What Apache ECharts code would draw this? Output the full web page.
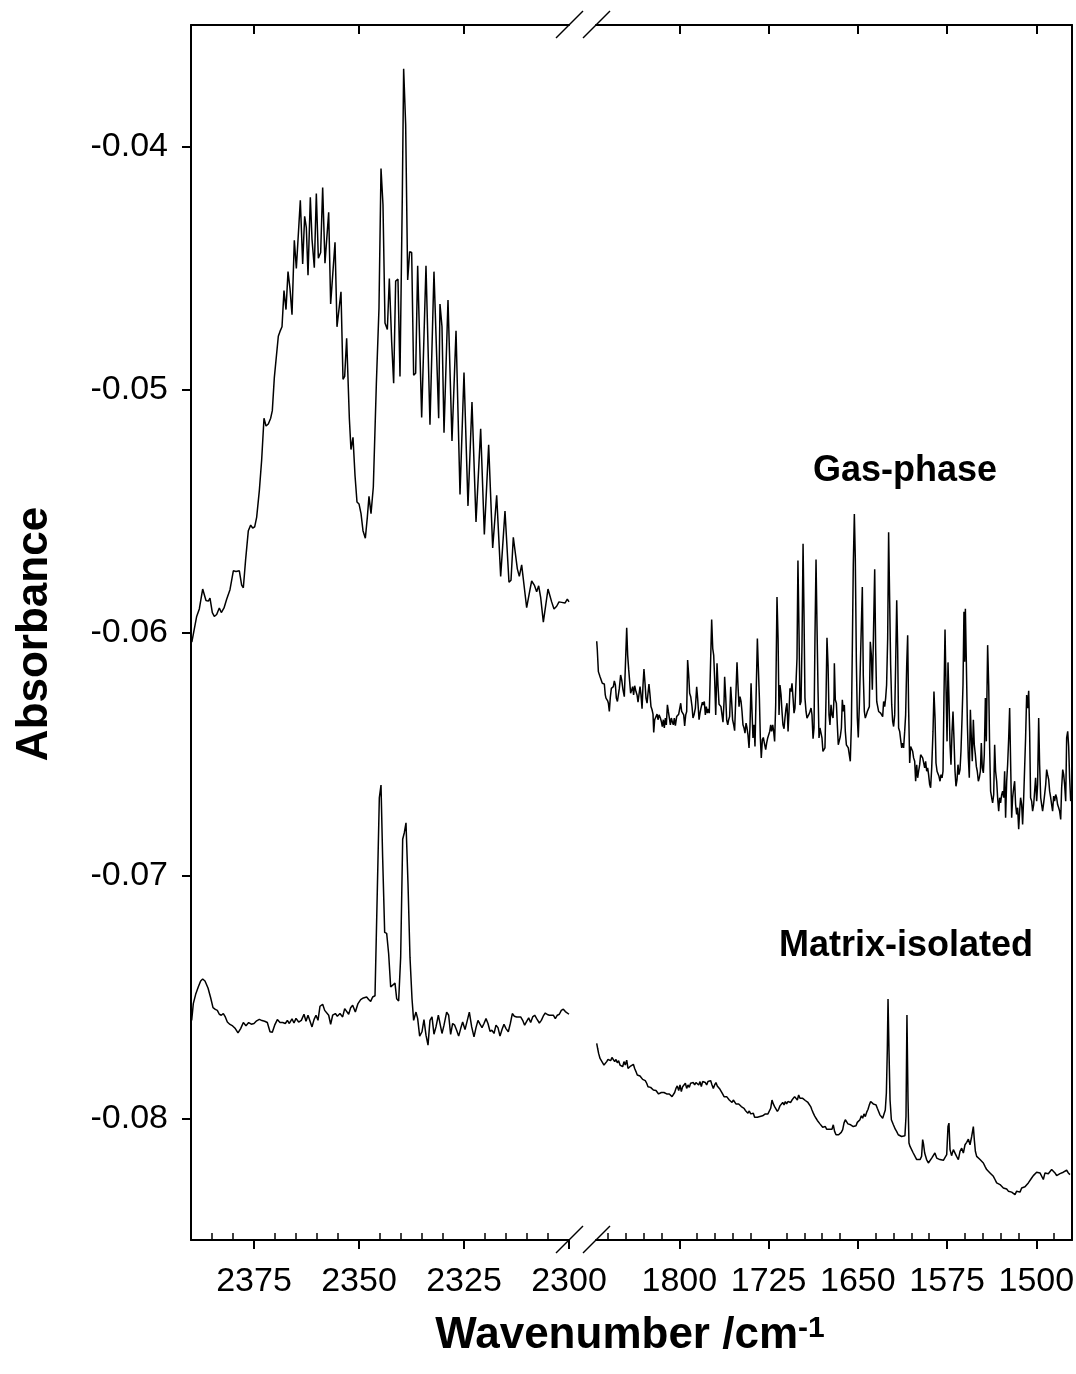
<!DOCTYPE html>
<html>
<head>
<meta charset="utf-8">
<script src="https://cdn.jsdelivr.net/npm/echarts@6/dist/echarts.min.js"></script>
<style>
  html, body { margin: 0; padding: 0; background: #fff; }
  #chart { width: 1076px; height: 1374px; }
</style>
</head>
<body>
<div id="chart"></div>
<script>
// spectra as [wavenumber (cm-1), absorbance]
const gasLeft = [[2389.8,-0.0604],[2388.65,-0.05934],[2388.02,-0.05903],[2387.22,-0.05821],[2386.43,-0.05868],[2385.87,-0.05871],[2385.48,-0.05859],[2384.92,-0.05918],[2384.45,-0.05934],[2383.89,-0.05926],[2383.26,-0.05899],[2382.78,-0.05918],[2382.14,-0.05899],[2381.51,-0.05863],[2380.72,-0.05824],[2379.92,-0.05746],[2379.29,-0.05749],[2378.49,-0.05746],[2377.94,-0.05805],[2377.54,-0.05816],[2376.99,-0.05699],[2376.35,-0.05581],[2375.79,-0.05558],[2375.32,-0.0557],[2374.84,-0.05565],[2374.37,-0.05526],[2373.73,-0.05416],[2373.18,-0.05291],[2372.62,-0.05118],[2372.14,-0.0515],[2371.59,-0.05142],[2371.03,-0.05118],[2370.64,-0.05087],[2370.16,-0.04951],[2369.69,-0.04949],[2369.21,-0.04781],[2368.81,-0.04761],[2368.33,-0.04742],[2367.86,-0.04593],[2367.38,-0.04671],[2366.9,-0.04515],[2366.43,-0.04585],[2365.95,-0.04692],[2365.4,-0.04386],[2364.92,-0.04502],[2363.97,-0.04221],[2363.41,-0.04483],[2362.94,-0.04287],[2362.54,-0.04334],[2362.14,-0.0453],[2361.59,-0.04209],[2361.19,-0.04381],[2360.64,-0.04499],[2360.16,-0.04193],[2359.68,-0.0446],[2359.13,-0.04436],[2358.65,-0.04169],[2358.1,-0.0448],[2357.22,-0.04271],[2356.75,-0.04648],[2355.71,-0.04394],[2355.24,-0.04742],[2354.29,-0.04598],[2353.81,-0.04958],[2353.41,-0.04946],[2352.94,-0.04789],[2352.3,-0.05118],[2351.91,-0.05247],[2351.43,-0.05197],[2350.95,-0.05354],[2350.48,-0.05463],[2350.0,-0.05471],[2349.52,-0.05511],[2349.05,-0.05581],[2348.49,-0.05612],[2348.02,-0.05526],[2347.62,-0.0544],[2347.14,-0.05511],[2346.59,-0.05401],[2345.87,-0.04977],[2345.24,-0.04664],[2344.76,-0.04091],[2344.29,-0.0424],[2343.81,-0.04726],[2343.25,-0.04753],[2342.78,-0.04543],[2342.22,-0.04805],[2341.75,-0.04974],[2341.27,-0.04554],[2340.72,-0.04546],[2340.24,-0.04946],[2339.68,-0.04193],[2339.37,-0.0368],[2338.89,-0.03911],[2338.41,-0.04549],[2337.94,-0.04433],[2337.46,-0.04436],[2336.99,-0.04941],[2336.51,-0.04933],[2336.03,-0.04491],[2335.08,-0.05115],[2334.05,-0.04491],[2333.1,-0.05145],[2332.15,-0.04515],[2331.03,-0.05118],[2330.72,-0.04648],[2330.24,-0.04742],[2329.76,-0.05178],[2328.81,-0.04632],[2327.86,-0.05212],[2326.9,-0.04758],[2325.95,-0.05432],[2325.0,-0.0493],[2324.05,-0.05479],[2323.1,-0.05052],[2322.14,-0.05545],[2321.03,-0.05162],[2320.16,-0.05597],[2319.13,-0.05228],[2318.17,-0.05652],[2317.22,-0.05435],[2316.27,-0.05769],[2315.24,-0.055],[2314.29,-0.05793],[2313.81,-0.05785],[2313.26,-0.05608],[2312.86,-0.05602],[2312.3,-0.05738],[2311.83,-0.05769],[2311.27,-0.05722],[2310.88,-0.0573],[2310.08,-0.05898],[2309.29,-0.05824],[2308.89,-0.05788],[2308.26,-0.05805],[2307.7,-0.05832],[2307.22,-0.05808],[2306.75,-0.05855],[2306.11,-0.05957],[2305.64,-0.0595],[2305.0,-0.05821],[2304.68,-0.05813],[2304.13,-0.05874],[2303.57,-0.05903],[2302.94,-0.05892],[2302.38,-0.05874],[2301.75,-0.05876],[2300.96,-0.05879],[2300.4,-0.05863],[2300.0,-0.05874]];

const matrixLeft = [[2389.84,-0.07596],[2389.45,-0.07527],[2388.89,-0.07489],[2388.27,-0.07459],[2387.7,-0.07434],[2387.22,-0.07426],[2386.67,-0.07434],[2385.95,-0.07463],[2385.32,-0.07503],[2384.76,-0.07544],[2384.21,-0.07551],[2383.73,-0.07555],[2383.26,-0.07571],[2382.78,-0.07575],[2382.3,-0.07568],[2381.83,-0.07582],[2381.35,-0.07603],[2380.72,-0.07613],[2380.08,-0.07619],[2379.45,-0.0763],[2378.81,-0.07648],[2378.18,-0.0763],[2377.54,-0.07605],[2376.91,-0.07618],[2376.27,-0.07605],[2375.64,-0.07612],[2375.0,-0.07609],[2374.37,-0.07598],[2373.73,-0.07592],[2373.1,-0.07597],[2372.46,-0.076],[2371.83,-0.07605],[2371.19,-0.07643],[2370.64,-0.07645],[2370.08,-0.07616],[2369.44,-0.07593],[2368.81,-0.07605],[2368.17,-0.07605],[2367.54,-0.07609],[2367.06,-0.07596],[2366.59,-0.07609],[2365.95,-0.0759],[2365.48,-0.07607],[2365.0,-0.07588],[2364.37,-0.07603],[2363.73,-0.07596],[2363.1,-0.07571],[2362.62,-0.076],[2362.14,-0.07575],[2361.67,-0.07571],[2361.19,-0.07623],[2360.71,-0.07593],[2360.24,-0.07575],[2359.76,-0.07596],[2359.29,-0.07538],[2358.65,-0.0753],[2358.17,-0.07555],[2357.7,-0.07548],[2357.22,-0.07575],[2356.75,-0.07612],[2356.27,-0.07575],[2355.63,-0.07568],[2355.16,-0.07579],[2354.53,-0.07568],[2353.89,-0.07582],[2353.41,-0.07548],[2352.94,-0.07548],[2352.46,-0.07571],[2351.99,-0.07544],[2351.51,-0.07534],[2350.87,-0.07562],[2350.24,-0.07527],[2349.6,-0.07511],[2348.97,-0.07504],[2348.18,-0.075],[2347.7,-0.0751],[2347.22,-0.07518],[2346.75,-0.075],[2346.19,-0.07495],[2345.64,-0.07063],[2345.16,-0.0668],[2344.76,-0.06628],[2344.37,-0.06926],[2343.89,-0.07234],[2343.41,-0.07238],[2342.94,-0.07322],[2342.46,-0.07459],[2341.99,-0.07459],[2341.43,-0.07443],[2341.03,-0.07507],[2340.56,-0.07516],[2340.08,-0.07336],[2339.6,-0.06851],[2339.21,-0.06824],[2338.81,-0.06783],[2338.33,-0.07036],[2337.86,-0.07336],[2337.38,-0.07507],[2336.99,-0.07596],[2336.43,-0.07562],[2336.03,-0.07589],[2335.56,-0.07661],[2335.0,-0.07643],[2334.53,-0.07593],[2334.05,-0.07657],[2333.57,-0.07698],[2333.1,-0.07596],[2332.62,-0.07582],[2332.15,-0.07653],[2331.67,-0.07623],[2331.11,-0.07575],[2330.72,-0.07579],[2330.24,-0.0765],[2329.76,-0.07616],[2329.13,-0.07562],[2328.65,-0.07575],[2328.18,-0.07654],[2327.7,-0.07609],[2327.22,-0.07616],[2326.75,-0.07637],[2326.27,-0.07661],[2325.79,-0.0763],[2325.32,-0.07603],[2324.76,-0.07634],[2324.21,-0.07596],[2323.73,-0.07562],[2323.17,-0.07623],[2322.62,-0.07664],[2322.14,-0.07626],[2321.67,-0.07596],[2321.19,-0.07612],[2320.71,-0.07626],[2320.24,-0.07609],[2319.76,-0.07589],[2319.29,-0.07609],[2318.81,-0.07641],[2318.33,-0.07637],[2317.86,-0.0765],[2317.38,-0.07616],[2316.91,-0.07626],[2316.43,-0.07661],[2315.95,-0.07634],[2315.48,-0.07612],[2315.0,-0.0763],[2314.45,-0.07643],[2313.97,-0.07609],[2313.49,-0.07568],[2313.02,-0.07579],[2312.46,-0.07582],[2311.99,-0.07579],[2311.51,-0.07582],[2311.03,-0.07596],[2310.56,-0.07616],[2310.08,-0.076],[2309.6,-0.07586],[2309.13,-0.07605],[2308.65,-0.07582],[2308.17,-0.07575],[2307.7,-0.07589],[2307.06,-0.07607],[2306.59,-0.07596],[2306.11,-0.07578],[2305.64,-0.07566],[2305.16,-0.07572],[2304.68,-0.07575],[2304.21,-0.07568],[2303.73,-0.07575],[2303.26,-0.07589],[2302.78,-0.07575],[2302.3,-0.07571],[2301.83,-0.07555],[2301.35,-0.0755],[2300.87,-0.0756],[2300.4,-0.07566],[2300.0,-0.07571]];

const gasRight = [[1869.4,-0.06036],[1868.9,-0.06072],[1868.0,-0.06161],[1866.6,-0.06182],[1865.5,-0.06184],[1864.7,-0.06209],[1863.8,-0.06216],[1863.0,-0.06212],[1862.2,-0.06257],[1861.6,-0.0627],[1861.0,-0.06264],[1860.2,-0.06281],[1859.6,-0.06291],[1858.8,-0.06325],[1858.0,-0.06268],[1857.1,-0.0623],[1856.3,-0.06236],[1855.4,-0.06223],[1854.6,-0.06199],[1853.7,-0.06216],[1852.9,-0.0627],[1852.0,-0.06284],[1851.2,-0.06287],[1850.4,-0.0623],[1849.3,-0.06175],[1848.4,-0.06195],[1847.3,-0.06236],[1846.2,-0.06264],[1845.3,-0.06264],[1844.2,-0.05981],[1843.4,-0.06093],[1842.5,-0.06154],[1841.7,-0.06202],[1840.9,-0.0625],[1840.0,-0.06236],[1839.2,-0.06223],[1838.4,-0.06257],[1837.5,-0.06219],[1836.4,-0.06243],[1835.5,-0.06257],[1834.7,-0.06287],[1833.9,-0.06257],[1833.0,-0.06223],[1832.2,-0.06257],[1831.3,-0.06314],[1830.5,-0.06216],[1829.7,-0.0615],[1828.8,-0.06209],[1828.0,-0.0627],[1827.1,-0.06291],[1826.3,-0.0625],[1825.5,-0.06212],[1824.6,-0.06257],[1823.8,-0.06305],[1822.9,-0.06318],[1822.1,-0.06336],[1821.5,-0.06411],[1820.7,-0.06359],[1819.6,-0.06352],[1818.7,-0.06336],[1817.9,-0.06359],[1817.0,-0.06339],[1815.9,-0.06352],[1815.1,-0.06366],[1814.3,-0.06387],[1813.4,-0.06359],[1812.6,-0.06393],[1811.7,-0.06352],[1810.9,-0.0638],[1810.0,-0.06298],[1809.2,-0.06325],[1808.4,-0.06332],[1807.5,-0.0638],[1806.7,-0.06352],[1805.8,-0.06369],[1805.0,-0.0638],[1804.2,-0.06352],[1803.3,-0.06383],[1802.2,-0.06346],[1801.4,-0.06352],[1800.5,-0.06336],[1799.7,-0.06332],[1798.8,-0.06291],[1798.0,-0.06325],[1797.2,-0.06325],[1796.3,-0.06339],[1795.5,-0.06384],[1794.6,-0.06339],[1793.8,-0.06325],[1793.0,-0.06113],[1792.1,-0.06175],[1791.3,-0.0625],[1790.4,-0.06264],[1789.3,-0.06305],[1788.5,-0.06352],[1787.6,-0.06339],[1786.5,-0.06311],[1785.4,-0.06223],[1784.6,-0.0627],[1783.4,-0.06359],[1782.6,-0.06332],[1781.8,-0.06311],[1780.6,-0.06287],[1779.8,-0.06298],[1779.0,-0.06284],[1778.1,-0.06339],[1777.3,-0.06305],[1776.4,-0.06332],[1775.6,-0.06314],[1774.8,-0.06332],[1773.6,-0.06325],[1772.8,-0.05947],[1771.9,-0.06066],[1771.1,-0.06093],[1770.3,-0.06189],[1769.4,-0.06339],[1768.3,-0.06127],[1767.5,-0.06216],[1766.6,-0.06295],[1765.8,-0.06298],[1765.0,-0.06305],[1764.1,-0.06339],[1763.3,-0.06369],[1762.4,-0.06284],[1761.9,-0.06182],[1761.0,-0.06264],[1760.2,-0.06359],[1759.3,-0.0638],[1758.5,-0.06359],[1757.7,-0.06346],[1756.8,-0.06223],[1756.0,-0.06284],[1755.2,-0.06359],[1754.3,-0.0638],[1753.5,-0.06404],[1752.6,-0.06277],[1751.5,-0.06123],[1750.7,-0.06216],[1749.8,-0.06305],[1749.0,-0.06264],[1748.1,-0.06284],[1747.3,-0.06325],[1746.5,-0.0638],[1745.6,-0.06393],[1744.8,-0.06414],[1743.9,-0.06373],[1743.1,-0.06393],[1742.3,-0.06421],[1741.4,-0.06475],[1740.6,-0.06387],[1739.7,-0.06209],[1738.9,-0.06325],[1738.1,-0.06434],[1737.2,-0.0638],[1736.4,-0.06469],[1735.5,-0.0627],[1734.4,-0.06025],[1733.6,-0.06025],[1732.7,-0.0627],[1731.9,-0.06434],[1731.1,-0.06516],[1730.2,-0.06441],[1729.4,-0.06432],[1728.5,-0.06455],[1727.4,-0.06482],[1726.6,-0.06455],[1725.7,-0.06434],[1724.9,-0.06434],[1724.0,-0.06407],[1723.2,-0.0638],[1722.4,-0.06407],[1721.5,-0.0638],[1720.7,-0.06407],[1719.9,-0.06448],[1719.0,-0.06298],[1717.9,-0.05854],[1717.0,-0.06025],[1716.2,-0.06339],[1715.4,-0.06216],[1714.5,-0.06257],[1713.7,-0.06325],[1712.9,-0.0638],[1712.0,-0.06396],[1711.2,-0.06352],[1710.3,-0.06311],[1709.5,-0.06291],[1708.6,-0.06407],[1707.8,-0.06325],[1707.0,-0.0623],[1706.1,-0.06243],[1705.3,-0.06209],[1704.4,-0.0627],[1703.6,-0.06332],[1702.8,-0.06311],[1701.9,-0.06305],[1701.1,-0.06107],[1700.3,-0.05704],[1699.4,-0.05997],[1698.6,-0.06298],[1697.7,-0.06284],[1696.9,-0.06052],[1696.0,-0.05635],[1695.2,-0.05929],[1694.4,-0.0627],[1693.5,-0.06325],[1692.7,-0.06352],[1691.8,-0.06346],[1691.0,-0.06336],[1690.2,-0.06325],[1689.3,-0.06311],[1688.5,-0.06339],[1687.6,-0.06437],[1686.8,-0.06393],[1686.0,-0.06025],[1685.1,-0.057],[1684.3,-0.0597],[1683.4,-0.06243],[1682.6,-0.06434],[1681.8,-0.06393],[1680.9,-0.064],[1680.1,-0.06434],[1679.3,-0.06489],[1678.4,-0.06496],[1677.6,-0.06475],[1676.7,-0.0627],[1675.9,-0.06022],[1675.0,-0.06134],[1674.2,-0.06339],[1673.4,-0.0638],[1672.5,-0.06298],[1671.7,-0.06339],[1670.8,-0.06352],[1670.0,-0.0627],[1669.7,-0.06127],[1668.9,-0.06277],[1668.0,-0.06291],[1667.2,-0.0638],[1666.4,-0.06462],[1665.5,-0.06469],[1664.7,-0.06428],[1663.8,-0.06393],[1663.0,-0.06277],[1662.2,-0.06325],[1661.3,-0.06298],[1660.5,-0.06407],[1659.6,-0.06462],[1658.8,-0.06455],[1658.0,-0.06475],[1657.1,-0.06478],[1656.3,-0.0653],[1655.4,-0.0638],[1654.6,-0.06066],[1653.8,-0.05724],[1652.9,-0.05512],[1652.1,-0.05697],[1651.2,-0.0612],[1650.4,-0.06352],[1649.6,-0.06432],[1648.7,-0.06298],[1647.9,-0.06141],[1647.0,-0.06134],[1646.2,-0.05813],[1645.4,-0.06175],[1644.5,-0.06325],[1643.7,-0.06352],[1642.8,-0.06339],[1642.0,-0.06325],[1641.2,-0.06325],[1640.3,-0.06305],[1639.5,-0.06038],[1638.6,-0.06093],[1637.8,-0.06236],[1637.0,-0.06052],[1635.8,-0.0574],[1635.0,-0.06066],[1634.1,-0.06284],[1633.3,-0.06291],[1632.5,-0.06325],[1631.6,-0.06332],[1630.8,-0.06332],[1630.0,-0.06339],[1629.1,-0.06346],[1628.3,-0.06284],[1627.4,-0.06305],[1626.6,-0.0627],[1625.8,-0.06216],[1624.9,-0.06025],[1624.1,-0.05587],[1623.2,-0.05874],[1622.4,-0.06134],[1621.5,-0.06298],[1620.7,-0.06366],[1619.9,-0.06387],[1619.0,-0.06339],[1618.2,-0.06134],[1617.3,-0.05867],[1616.5,-0.06066],[1615.7,-0.06393],[1614.8,-0.06407],[1614.0,-0.06441],[1613.1,-0.06475],[1612.3,-0.06455],[1611.5,-0.06475],[1610.6,-0.06407],[1609.8,-0.06339],[1608.9,-0.06134],[1608.1,-0.06011],[1607.3,-0.06311],[1606.4,-0.06537],[1605.6,-0.06469],[1604.7,-0.06475],[1603.9,-0.06489],[1603.1,-0.06516],[1602.2,-0.0653],[1601.4,-0.06612],[1600.5,-0.06544],[1599.7,-0.06598],[1598.9,-0.06571],[1598.0,-0.06544],[1597.2,-0.06503],[1596.3,-0.06496],[1595.5,-0.06516],[1594.7,-0.06523],[1593.8,-0.06557],[1593.0,-0.0653],[1592.1,-0.06571],[1591.3,-0.06557],[1590.5,-0.06585],[1589.6,-0.06626],[1588.8,-0.06639],[1587.9,-0.06557],[1586.8,-0.06407],[1586.0,-0.06243],[1585.1,-0.06352],[1584.3,-0.06537],[1583.4,-0.06571],[1582.6,-0.06578],[1581.8,-0.06592],[1580.9,-0.06612],[1580.1,-0.06585],[1579.2,-0.06598],[1578.4,-0.06571],[1577.6,-0.0627],[1576.7,-0.05988],[1575.9,-0.06216],[1575.0,-0.06448],[1574.2,-0.06123],[1573.4,-0.0627],[1572.5,-0.06462],[1571.7,-0.06544],[1570.8,-0.06407],[1570.0,-0.06325],[1569.2,-0.06434],[1568.3,-0.06571],[1567.5,-0.06633],[1566.6,-0.06605],[1565.8,-0.06544],[1565.0,-0.06585],[1564.1,-0.06564],[1563.3,-0.06489],[1562.4,-0.06352],[1561.6,-0.06216],[1560.8,-0.05915],[1560.2,-0.0612],[1559.6,-0.05902],[1558.8,-0.0612],[1557.9,-0.0638],[1557.1,-0.06516],[1556.3,-0.06598],[1555.4,-0.06318],[1554.6,-0.06434],[1553.8,-0.0653],[1552.9,-0.06359],[1552.1,-0.06462],[1551.2,-0.06503],[1550.4,-0.06551],[1549.6,-0.06571],[1548.7,-0.06612],[1547.9,-0.06598],[1547.0,-0.06571],[1546.2,-0.06455],[1545.4,-0.06557],[1544.5,-0.06578],[1543.7,-0.06503],[1542.8,-0.0627],[1542.0,-0.06448],[1540.9,-0.06052],[1540.0,-0.06216],[1539.2,-0.06475],[1538.4,-0.06653],[1537.5,-0.0668],[1536.7,-0.06701],[1535.8,-0.06667],[1535.0,-0.06462],[1534.2,-0.06571],[1533.3,-0.06612],[1532.5,-0.0668],[1531.6,-0.06735],[1530.8,-0.0668],[1530.0,-0.06701],[1529.1,-0.06667],[1528.3,-0.06653],[1527.4,-0.0668],[1526.6,-0.06571],[1525.8,-0.06762],[1524.9,-0.06612],[1524.1,-0.06544],[1523.2,-0.06434],[1522.4,-0.06311],[1521.6,-0.0653],[1520.7,-0.06762],[1519.9,-0.0668],[1519.0,-0.06639],[1518.2,-0.06612],[1517.4,-0.06708],[1516.5,-0.06749],[1515.7,-0.06721],[1514.8,-0.0681],[1514.0,-0.06735],[1513.2,-0.0668],[1512.3,-0.06708],[1511.5,-0.0679],[1510.6,-0.0668],[1509.8,-0.06557],[1509.0,-0.06434],[1508.1,-0.06257],[1507.3,-0.06311],[1506.4,-0.0624],[1505.6,-0.06407],[1504.8,-0.0668],[1503.9,-0.06694],[1503.1,-0.06735],[1502.2,-0.06708],[1501.4,-0.06653],[1500.6,-0.06598],[1499.7,-0.06694],[1498.9,-0.06626],[1498.0,-0.06352],[1497.2,-0.06544],[1496.3,-0.0668],[1495.5,-0.06708],[1494.7,-0.06735],[1493.8,-0.06701],[1493.0,-0.06667],[1492.1,-0.06626],[1491.3,-0.06564],[1490.5,-0.06585],[1489.6,-0.06605],[1488.8,-0.06653],[1487.9,-0.0668],[1487.1,-0.06708],[1486.3,-0.06735],[1485.4,-0.06673],[1484.6,-0.06694],[1483.7,-0.06667],[1482.9,-0.0668],[1482.1,-0.06708],[1481.2,-0.06721],[1480.4,-0.06735],[1479.5,-0.06769],[1478.7,-0.06639],[1477.8,-0.06564],[1477.0,-0.06585],[1476.2,-0.06626],[1475.3,-0.06694],[1474.5,-0.06434],[1473.6,-0.06407],[1472.8,-0.06469],[1472.0,-0.06598],[1471.1,-0.06694]];

const matrixRight = [[1869.4,-0.07691],[1868.6,-0.07712],[1867.8,-0.07732],[1866.6,-0.07753],[1865.5,-0.07762],[1864.4,-0.0776],[1863.3,-0.0778],[1862.2,-0.0778],[1861.0,-0.07766],[1859.9,-0.07757],[1858.8,-0.07753],[1857.7,-0.07762],[1856.6,-0.07749],[1855.4,-0.07753],[1854.3,-0.07766],[1853.2,-0.07757],[1852.1,-0.07771],[1851.0,-0.07762],[1849.8,-0.0778],[1848.7,-0.07773],[1847.6,-0.07787],[1846.5,-0.07766],[1845.4,-0.0778],[1844.2,-0.0776],[1843.1,-0.07794],[1842.0,-0.07787],[1840.9,-0.07784],[1839.8,-0.0778],[1838.6,-0.07777],[1837.5,-0.07794],[1836.4,-0.07807],[1835.3,-0.07821],[1834.2,-0.07814],[1833.0,-0.07825],[1831.9,-0.07828],[1830.8,-0.07839],[1829.7,-0.07835],[1828.6,-0.07844],[1827.4,-0.07855],[1826.3,-0.07869],[1825.2,-0.07876],[1824.1,-0.07872],[1823.0,-0.0788],[1821.8,-0.07883],[1820.7,-0.0788],[1819.6,-0.07885],[1818.5,-0.07893],[1817.4,-0.07899],[1816.2,-0.07903],[1815.1,-0.07893],[1814.0,-0.07899],[1812.9,-0.07893],[1811.8,-0.07885],[1810.6,-0.07899],[1809.5,-0.07893],[1808.4,-0.07899],[1807.3,-0.07903],[1806.1,-0.0791],[1805.0,-0.07903],[1803.9,-0.07893],[1802.8,-0.07876],[1801.7,-0.07866],[1800.5,-0.07885],[1799.4,-0.07862],[1798.3,-0.07889],[1797.2,-0.07869],[1796.1,-0.07876],[1794.9,-0.07855],[1793.8,-0.07876],[1792.7,-0.07862],[1791.6,-0.07872],[1790.5,-0.07855],[1789.3,-0.07862],[1788.2,-0.07852],[1787.1,-0.07862],[1786.0,-0.07852],[1784.9,-0.07855],[1783.7,-0.07862],[1782.6,-0.07848],[1781.5,-0.07869],[1780.4,-0.07848],[1779.3,-0.07842],[1778.1,-0.07852],[1777.0,-0.07862],[1775.9,-0.07848],[1774.8,-0.07855],[1773.7,-0.07844],[1772.5,-0.07862],[1771.4,-0.07876],[1770.3,-0.07862],[1769.2,-0.07852],[1768.1,-0.07866],[1766.9,-0.07872],[1765.8,-0.0788],[1764.7,-0.07889],[1763.6,-0.07899],[1762.4,-0.0791],[1761.3,-0.07907],[1760.2,-0.0791],[1759.1,-0.07917],[1758.0,-0.07924],[1756.8,-0.0793],[1755.7,-0.07934],[1754.6,-0.07924],[1753.5,-0.0793],[1752.4,-0.0794],[1751.2,-0.07934],[1750.1,-0.0794],[1749.0,-0.07944],[1747.9,-0.07951],[1746.8,-0.07948],[1745.6,-0.07958],[1744.5,-0.07967],[1743.4,-0.07971],[1742.3,-0.07978],[1741.2,-0.07969],[1740.0,-0.07981],[1738.9,-0.07989],[1737.8,-0.07978],[1736.7,-0.07995],[1735.6,-0.07999],[1734.4,-0.07995],[1733.3,-0.07989],[1732.2,-0.07992],[1731.1,-0.07985],[1730.0,-0.07989],[1728.8,-0.07985],[1727.7,-0.07981],[1726.6,-0.07985],[1725.5,-0.07981],[1724.4,-0.07978],[1723.2,-0.07958],[1722.1,-0.07924],[1721.0,-0.0794],[1719.9,-0.07951],[1718.8,-0.07958],[1717.6,-0.07971],[1716.5,-0.07962],[1715.4,-0.07948],[1714.3,-0.0794],[1713.1,-0.07934],[1712.0,-0.07944],[1710.9,-0.0793],[1709.8,-0.0794],[1708.7,-0.0793],[1707.5,-0.07924],[1706.4,-0.07934],[1705.3,-0.07924],[1704.2,-0.07921],[1703.1,-0.0791],[1701.9,-0.07917],[1700.8,-0.07924],[1699.7,-0.07903],[1698.6,-0.07917],[1697.5,-0.0791],[1696.3,-0.07917],[1695.2,-0.07924],[1694.1,-0.07926],[1693.0,-0.07926],[1691.9,-0.07934],[1690.7,-0.0794],[1689.6,-0.07951],[1688.5,-0.07965],[1687.4,-0.07978],[1686.3,-0.07989],[1685.1,-0.07999],[1684.0,-0.08008],[1682.9,-0.08016],[1681.8,-0.08022],[1680.7,-0.0803],[1679.5,-0.08036],[1678.4,-0.0804],[1677.3,-0.08033],[1676.2,-0.08044],[1675.1,-0.0804],[1673.9,-0.08044],[1672.8,-0.08036],[1671.7,-0.08044],[1670.6,-0.08026],[1669.5,-0.08053],[1668.3,-0.08067],[1667.2,-0.08074],[1666.1,-0.08067],[1665.0,-0.08063],[1663.9,-0.08057],[1662.7,-0.08046],[1661.6,-0.08019],[1660.5,-0.08005],[1659.4,-0.08012],[1658.3,-0.08022],[1657.1,-0.08019],[1656.0,-0.08026],[1654.9,-0.08022],[1653.8,-0.08033],[1652.7,-0.0804],[1651.5,-0.0803],[1650.4,-0.08016],[1649.3,-0.08012],[1648.2,-0.08005],[1647.0,-0.07989],[1645.9,-0.07999],[1644.8,-0.07981],[1643.7,-0.07992],[1642.6,-0.07975],[1641.4,-0.07962],[1640.3,-0.07944],[1639.2,-0.0793],[1638.1,-0.07934],[1637.0,-0.0794],[1635.8,-0.07948],[1634.7,-0.07944],[1633.6,-0.07958],[1632.5,-0.07971],[1631.4,-0.07985],[1630.2,-0.07992],[1629.1,-0.07999],[1628.0,-0.07992],[1626.9,-0.07965],[1626.0,-0.07896],[1625.2,-0.07719],[1624.6,-0.07508],[1623.8,-0.07719],[1622.9,-0.07924],[1621.8,-0.08005],[1620.1,-0.08026],[1618.5,-0.08044],[1617.4,-0.08053],[1616.0,-0.08067],[1614.6,-0.08063],[1613.2,-0.08074],[1611.8,-0.08081],[1610.4,-0.08071],[1609.5,-0.07992],[1608.7,-0.07574],[1607.8,-0.07924],[1607.0,-0.08101],[1606.1,-0.08115],[1604.7,-0.08122],[1603.4,-0.08142],[1601.9,-0.08156],[1600.5,-0.08169],[1599.1,-0.08163],[1597.7,-0.08169],[1596.4,-0.08156],[1595.5,-0.08087],[1594.7,-0.08108],[1593.8,-0.08142],[1592.2,-0.08169],[1590.7,-0.08183],[1589.4,-0.08176],[1587.9,-0.08163],[1586.5,-0.08156],[1585.2,-0.08142],[1583.7,-0.08163],[1582.3,-0.08156],[1581.0,-0.08169],[1579.5,-0.08163],[1578.1,-0.08172],[1576.7,-0.08176],[1575.3,-0.08149],[1574.2,-0.08033],[1573.4,-0.08019],[1572.5,-0.08128],[1571.2,-0.08153],[1569.7,-0.08128],[1568.3,-0.08126],[1567.0,-0.08156],[1565.5,-0.08169],[1564.1,-0.08135],[1562.7,-0.08122],[1561.3,-0.08142],[1559.9,-0.08108],[1558.5,-0.08098],[1557.1,-0.08085],[1555.7,-0.08108],[1554.3,-0.08074],[1552.9,-0.08033],[1552.1,-0.08087],[1551.2,-0.08135],[1550.1,-0.08156],[1548.7,-0.08163],[1547.3,-0.08169],[1545.9,-0.08172],[1544.5,-0.08183],[1543.1,-0.08197],[1541.7,-0.0821],[1540.3,-0.08213],[1538.9,-0.08224],[1537.5,-0.08231],[1536.1,-0.08238],[1534.7,-0.08251],[1533.3,-0.08265],[1531.9,-0.08262],[1530.5,-0.08272],[1529.1,-0.08279],[1527.7,-0.08286],[1526.3,-0.08292],[1524.9,-0.0829],[1523.5,-0.08299],[1522.1,-0.08295],[1520.7,-0.08303],[1519.3,-0.08306],[1517.9,-0.08313],[1516.5,-0.08299],[1515.1,-0.08292],[1513.7,-0.08303],[1512.3,-0.08286],[1510.9,-0.08292],[1509.5,-0.08281],[1508.1,-0.08276],[1506.7,-0.08265],[1505.3,-0.08258],[1503.9,-0.08245],[1502.5,-0.08235],[1501.1,-0.08227],[1499.7,-0.08221],[1498.3,-0.08217],[1496.9,-0.08224],[1495.5,-0.08231],[1494.1,-0.08251],[1492.7,-0.08224],[1491.3,-0.08217],[1489.9,-0.08227],[1488.5,-0.08221],[1487.1,-0.0821],[1485.7,-0.08217],[1484.3,-0.08224],[1482.9,-0.08235],[1481.5,-0.08238],[1480.1,-0.08227],[1478.7,-0.08224],[1477.3,-0.08221],[1475.9,-0.08217],[1474.5,-0.08213],[1473.1,-0.08224],[1471.7,-0.08231]];

// axis ticks
const yTicks = [-0.08, -0.07, -0.06, -0.05, -0.04];
const leftMajor = [2375, 2350, 2325, 2300];
const leftMinor = [2385, 2380, 2370, 2365, 2360, 2355, 2345, 2340, 2335, 2330, 2320, 2315, 2310, 2305];
const rightMajor = [1800, 1725, 1650, 1575, 1500];
const rightMinor = [1860, 1845, 1830, 1815, 1785, 1770, 1755, 1740, 1710, 1695, 1680, 1665, 1635, 1620, 1605, 1590, 1560, 1545, 1530, 1515, 1485];

const FONT = '"Liberation Sans", Arial, sans-serif';
const black = '#000';
const frame = { color: black, width: 2 };

const chart = echarts.init(document.getElementById('chart'), null, { renderer: 'canvas' });

function xAxisMain(grid, min, max, ticks) {
  return {
    type: 'value', gridIndex: grid, position: 'bottom', min, max, inverse: true,
    axisLine: { show: true, onZero: false, lineStyle: frame },
    axisTick: { show: true, inside: false, length: 9, customValues: ticks, lineStyle: frame },
    axisLabel: { show: true, customValues: ticks, margin: 25, color: black, fontSize: 34, fontFamily: FONT,
      formatter: (v) => String(v) },
    splitLine: { show: false }
  };
}
function xAxisTop(grid, min, max, ticks) {
  return {
    type: 'value', gridIndex: grid, position: 'top', min, max, inverse: true,
    axisLine: { show: true, onZero: false, lineStyle: frame },
    axisTick: { show: true, inside: true, length: 9, customValues: ticks, lineStyle: frame },
    axisLabel: { show: false }, splitLine: { show: false }
  };
}
function xAxisMinor(grid, min, max, ticks) {
  return {
    type: 'value', gridIndex: grid, position: 'bottom', min, max, inverse: true,
    axisLine: { show: false, onZero: false },
    axisTick: { show: true, inside: true, length: 7, customValues: ticks, lineStyle: { color: black, width: 1.5 } },
    axisLabel: { show: false }, splitLine: { show: false }
  };
}
const yBase = { type: 'value', min: -0.085, max: -0.035, splitLine: { show: false } };

const lineSeries = (name, data, xi, yi) => ({
  name, type: 'line', data, xAxisIndex: xi, yAxisIndex: yi,
  showSymbol: false, symbol: 'none', smooth: false, animation: false,
  lineStyle: { color: black, width: 1.5 }, silent: true
});

const leftGrid = { left: 191, top: 25, width: 378, height: 1215, containLabel: false, outerBoundsMode: 'none' };
const rightGrid = { left: 596, top: 25, width: 476, height: 1215, containLabel: false, outerBoundsMode: 'none' };

chart.setOption({
  backgroundColor: '#fff',
  animation: false,
  grid: [leftGrid, rightGrid, leftGrid, rightGrid],
  xAxis: [
    xAxisMain(0, 2300, 2390, leftMajor),
    xAxisTop(0, 2300, 2390, leftMajor.slice(0, 3)),
    xAxisMain(1, 1470, 1870, rightMajor),
    xAxisTop(1, 1470, 1870, rightMajor),
    xAxisMinor(2, 2300, 2390, leftMinor),
    xAxisMinor(3, 1470, 1870, rightMinor)
  ],
  yAxis: [
    Object.assign({}, yBase, {
      gridIndex: 0, position: 'left',
      axisLine: { show: true, lineStyle: frame },
      axisTick: { show: true, inside: false, length: 9, customValues: yTicks, lineStyle: frame },
      axisLabel: { show: true, customValues: yTicks, margin: 23, color: black, fontSize: 34, fontFamily: FONT,
        formatter: (v) => v.toFixed(2) }
    }),
    Object.assign({}, yBase, {
      gridIndex: 1, position: 'right',
      axisLine: { show: true, lineStyle: frame },
      axisTick: { show: false }, axisLabel: { show: false }
    }),
    Object.assign({}, yBase, { gridIndex: 2, show: false }),
    Object.assign({}, yBase, { gridIndex: 3, show: false })
  ],
  series: [
    lineSeries('Gas-phase 2300-2390', gasLeft, 0, 0),
    lineSeries('Matrix-isolated 2300-2390', matrixLeft, 0, 0),
    lineSeries('Gas-phase 1470-1870', gasRight, 2, 1),
    lineSeries('Matrix-isolated 1470-1870', matrixRight, 2, 1)
  ],
  graphic: [
    // axis break marks
    { type: 'line', shape: { x1: 556, y1: 1253, x2: 583, y2: 1226 }, style: { stroke: black, lineWidth: 1.5 } },
    { type: 'line', shape: { x1: 583, y1: 1253, x2: 610, y2: 1226 }, style: { stroke: black, lineWidth: 1.5 } },
    { type: 'line', shape: { x1: 556, y1: 38, x2: 583, y2: 11 }, style: { stroke: black, lineWidth: 1.5 } },
    { type: 'line', shape: { x1: 583, y1: 38, x2: 610, y2: 11 }, style: { stroke: black, lineWidth: 1.5 } },
    // titles and annotations
    { type: 'text', x: 35, y: 634, rotation: Math.PI / 2,
      style: { text: 'Absorbance', font: 'bold 44px ' + FONT, fill: black, textAlign: 'center', textVerticalAlign: 'middle' } },
    { type: 'text', x: 630, y: 1336,
      style: { text: '{a|Wavenumber /cm}{b|-1}', fill: black, textAlign: 'center', textVerticalAlign: 'middle',
        rich: {
          a: { fontSize: 44, fontWeight: 'bold', fontFamily: FONT, fill: black },
          b: { fontSize: 30, fontWeight: 'bold', fontFamily: FONT, fill: black, verticalAlign: 'top' }
        } } },
    { type: 'text', x: 905, y: 471,
      style: { text: 'Gas-phase', font: 'bold 36px ' + FONT, fill: black, textAlign: 'center', textVerticalAlign: 'middle' } },
    { type: 'text', x: 906, y: 946,
      style: { text: 'Matrix-isolated', font: 'bold 36px ' + FONT, fill: black, textAlign: 'center', textVerticalAlign: 'middle' } }
  ]
});
</script>
</body>
</html>
